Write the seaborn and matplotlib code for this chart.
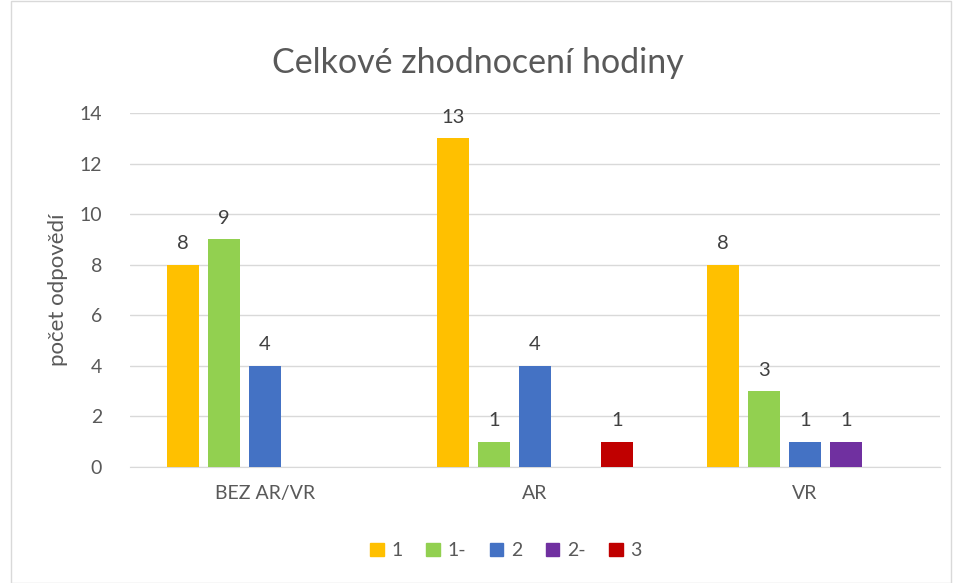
import pandas as pd
import numpy as np
import matplotlib.pyplot as plt
import seaborn as sns
from matplotlib.patches import Rectangle

# data
categories = ['BEZ AR/VR', 'AR', 'VR']
grades = ['1', '1-', '2', '2-', '3']
vals_bez = [8, 9, 4, 0, 0]
vals_ar = [13, 1, 4, 0, 1]
vals_vr = [8, 3, 1, 1, 0]
colors = ['#FFC000', '#92D050', '#4472C4', '#7030A0', '#C00000']

rows = []
for cat, vals in zip(categories, [vals_bez, vals_ar, vals_vr]):
    for g, v in zip(grades, vals):
        rows.append({'kategorie': cat, 'znamka': g, 'pocet': v})
df = pd.DataFrame(rows)

sns.set_style('white')
plt.rcParams['font.family'] = ['Lato', 'DejaVu Sans']

fig = plt.figure(figsize=(9.55, 5.83), dpi=100)
ax = fig.add_axes([0.136, 0.199, 0.848, 0.607])

sns.barplot(data=df, x='kategorie', y='pocet', hue='znamka',
            order=categories, hue_order=grades, palette=colors, saturation=1,
            width=0.76, gap=0.22, linewidth=0, ax=ax, legend=False, zorder=3)

# popisky hodnot (nuly vynechat)
for cont in ax.containers:
    labs = [f'{v:g}' if v > 0 else '' for v in cont.datavalues]
    ax.bar_label(cont, labels=labs, padding=9, fontsize=14.5, color='#404040')

ax.set_ylim(0, 14)
ax.set_yticks(range(0, 15, 2))
ax.set_xlim(-0.5, 2.5)
ax.grid(axis='y', color='#D9D9D9', linewidth=1, zorder=0)
for s in ['top', 'right', 'left']:
    ax.spines[s].set_visible(False)
ax.spines['bottom'].set_color('#D9D9D9')
ax.tick_params(axis='both', length=0, labelsize=14, labelcolor='#595959')
ax.tick_params(axis='x', pad=13)
ax.tick_params(axis='y', pad=20)
ax.set_xlabel('')
ax.set_ylabel('počet odpovědí', fontsize=16, color='#595959', labelpad=8)

fig.suptitle('Celkové zhodnocení hodiny', fontsize=24.5, color='#595959', y=0.92)

handles = [Rectangle((0, 0), 1, 1, color=c) for c in colors]
fig.legend(handles, grades, loc='center', bbox_to_anchor=(0.53, 0.055), ncol=5,
           frameon=False, handlelength=0.7, handleheight=0.7, handletextpad=0.4,
           columnspacing=1.2, fontsize=14, labelcolor='#595959')

# ramecek grafu
fig.patches.append(Rectangle((0.011, 0.0), 0.985, 0.998, transform=fig.transFigure,
                             fill=False, edgecolor='#D9D9D9', linewidth=1))

plt.savefig('out.png', dpi=100)
